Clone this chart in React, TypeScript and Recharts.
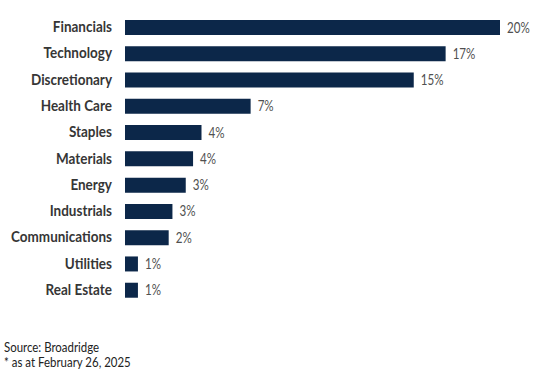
import React from "react";
import { BarChart, Bar, XAxis, YAxis, LabelList } from "recharts";

const categories = [
  "Financials",
  "Technology",
  "Discretionary",
  "Health Care",
  "Staples",
  "Materials",
  "Energy",
  "Industrials",
  "Communications",
  "Utilities",
  "Real Estate",
];
const weights = [20.0, 17.1, 15.4, 6.7, 4.08, 3.63, 3.24, 2.53, 2.33, 0.69, 0.69];
const valueLabels = ["20%", "17%", "15%", "7%", "4%", "4%", "3%", "3%", "2%", "1%", "1%"];
const sourceLines = ["Source: Broadridge", "* as at February 26, 2025"];

const data = categories.map((name, i) => ({ name, value: weights[i], label: valueLabels[i] }));

const FONT = "Lato, 'Open Sans', sans-serif";

const CatTick = (props: any) => {
  const { x, y, payload } = props;
  return (
    <text
      transform={`translate(${x},${y}) scale(0.93,1)`}
      x={0}
      y={0}
      dy={5}
      textAnchor="end"
      fontFamily={FONT}
      fontWeight={700}
      fontSize={14.5}
      fill="#363636"
    >
      {payload.value}
    </text>
  );
};

const ValueLabel = (props: any) => {
  const { x, y, width, height, value } = props;
  const lx = Number(x) + Number(width) + 7;
  const ly = Number(y) + Number(height) / 2;
  return (
    <text
      transform={`translate(${lx},${ly}) scale(0.8,1)`}
      x={0}
      y={0}
      dy={5}
      textAnchor="start"
      fontFamily={FONT}
      fontWeight={400}
      fontSize={14.5}
      fill="#505050"
    >
      {value}
    </text>
  );
};

export default function App() {
  return (
    <div style={{ position: "absolute", left: 0, top: 0, width: 557, height: 374, background: "#fff" }}>
      <BarChart
        width={557}
        height={374}
        data={data}
        layout="vertical"
        margin={{ top: 14, right: 57, bottom: 71, left: 0 }}
        barSize={15}
      >
        <XAxis type="number" domain={[0, 20]} hide />
        <YAxis
          type="category"
          dataKey="name"
          width={125}
          axisLine={false}
          tickLine={false}
          tick={<CatTick />}
          interval={0}
          tickMargin={7}
        />
        <Bar dataKey="value" fill="#0c2749" isAnimationActive={false}>
          <LabelList dataKey="label" content={<ValueLabel />} />
        </Bar>
      </BarChart>
      <div
        style={{
          position: "absolute",
          left: 4,
          top: 340,
          fontFamily: FONT,
          fontSize: 13,
          lineHeight: "15px",
          color: "#222",
          transform: "scaleX(0.88)",
          transformOrigin: "left top",
          whiteSpace: "nowrap",
        }}
      >
        {sourceLines.map((s) => (
          <div key={s}>{s}</div>
        ))}
      </div>
    </div>
  );
}
